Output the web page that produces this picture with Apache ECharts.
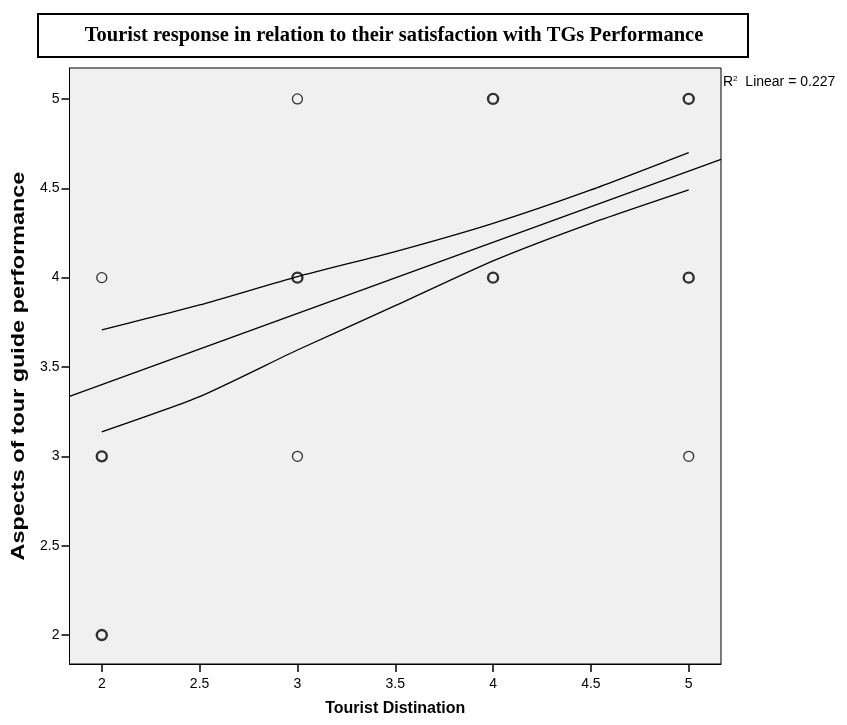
<!DOCTYPE html>
<html>
<head>
<meta charset="utf-8">
<script src="https://cdn.jsdelivr.net/npm/echarts@6/dist/echarts.min.js"></script>
<style>html,body{margin:0;padding:0;background:#fff}#c{width:847px;height:725px}</style>
</head>
<body>
<div id="c"></div>
<script>
// Data
var titleText = 'Tourist response in relation to their satisfaction with TGs Performance';
var xName = 'Tourist Distination';
var yName = 'Aspects of tour guide performance';
var r2Label = 'Linear = 0.227';
var xTicks = [2, 2.5, 3, 3.5, 4, 4.5, 5];
var yTicks = [2, 2.5, 3, 3.5, 4, 4.5, 5];
// observed points (single) and overlapping points (multiple)
var pointsSingle = [[2, 4], [3, 5], [3, 3], [5, 3]];
var pointsMultiple = [[2, 3], [2, 2], [3, 4], [4, 5], [4, 4], [5, 5], [5, 4]];
// fit line endpoints (at axis bounds)
var fitX = [1.835, 5.165];
var fitY = [3.336, 4.662];
// confidence band
var bandX = [2, 2.5, 3, 3.5, 4, 4.5, 5];
var bandUpper = [3.707, 3.847, 4.006, 4.146, 4.304, 4.491, 4.700];
var bandLower = [3.137, 3.334, 3.595, 3.843, 4.094, 4.304, 4.491];

function zip(a, b) { return a.map(function (v, i) { return [v, b[i]]; }); }

var chart = echarts.init(document.getElementById('c'), null, { renderer: 'canvas' });
var font = '"Liberation Sans", Arial, sans-serif';
var option = {
  animation: false,
  backgroundColor: '#fff',
  grid: {
    left: 69.5, right: 126, top: 68, bottom: 61,
    show: true, backgroundColor: '#f0f0f0', borderColor: '#000', borderWidth: 1
  },
  xAxis: {
    type: 'value', min: 1.835, max: 5.165,
    name: xName, nameLocation: 'middle', nameGap: 37,
    nameTextStyle: { fontFamily: font, fontSize: 16, fontWeight: 'bold', color: '#000' },
    axisLine: { show: true, lineStyle: { color: '#000', width: 1 } },
    axisTick: { show: true, length: 8, lineStyle: { color: '#000', width: 1.5 }, customValues: xTicks },
    axisLabel: { color: '#000', fontFamily: font, fontSize: 14, margin: 13, customValues: xTicks },
    splitLine: { show: false }
  },
  yAxis: {
    type: 'value', min: 1.838, max: 5.173,
    axisLine: { show: true, lineStyle: { color: '#000', width: 1 } },
    axisTick: { show: true, length: 8, lineStyle: { color: '#000', width: 1.5 }, customValues: yTicks },
    axisLabel: { color: '#000', fontFamily: font, fontSize: 14, margin: 10, customValues: yTicks },
    splitLine: { show: false }
  },
  series: [
    {
      type: 'line', data: zip(fitX, fitY), symbol: 'none', clip: true,
      lineStyle: { color: '#000', width: 1.3 }
    },
    {
      type: 'line', data: zip(bandX, bandUpper), symbol: 'none', smooth: 0.2,
      lineStyle: { color: '#000', width: 1.3 }
    },
    {
      type: 'line', data: zip(bandX, bandLower), symbol: 'none', smooth: 0.2,
      lineStyle: { color: '#000', width: 1.3 }
    },
    {
      type: 'scatter', data: pointsSingle, symbol: 'circle', symbolSize: 10,
      itemStyle: { color: 'rgba(0,0,0,0)', borderColor: '#000', borderWidth: 1.3 }
    },
    {
      type: 'scatter', data: pointsMultiple, symbol: 'circle', symbolSize: 10,
      itemStyle: { color: 'rgba(0,0,0,0)', borderColor: '#000', borderWidth: 2.4 }
    }
  ],
  graphic: [
    {
      type: 'rect', shape: { x: 38, y: 14, width: 710, height: 43 },
      style: { fill: '#fff', stroke: '#000', lineWidth: 2 }
    },
    {
      type: 'text', x: 394, y: 35.5,
      style: {
        text: titleText, fill: '#000', align: 'center', verticalAlign: 'middle',
        font: 'bold 20.5px "Liberation Serif", "Times New Roman", serif'
      }
    },
    {
      type: 'text', x: 19, y: 366, rotation: Math.PI / 2, scaleX: 1.3,
      style: {
        text: yName, fill: '#000', align: 'center', verticalAlign: 'middle',
        font: 'bold 18px "Liberation Sans", Arial, sans-serif'
      }
    },
    {
      type: 'text', x: 723, y: 82,
      style: {
        text: '{r|R}{s|2}{t|  ' + r2Label + '}',
        verticalAlign: 'middle',
        rich: {
          r: { fontFamily: font, fontSize: 14, fill: '#000' },
          s: { fontFamily: font, fontSize: 8, fill: '#000', verticalAlign: 'top', padding: [0, 0, 7, 0] },
          t: { fontFamily: font, fontSize: 14, fill: '#000' }
        }
      }
    }
  ]
};
chart.setOption(option);
</script>
</body>
</html>
